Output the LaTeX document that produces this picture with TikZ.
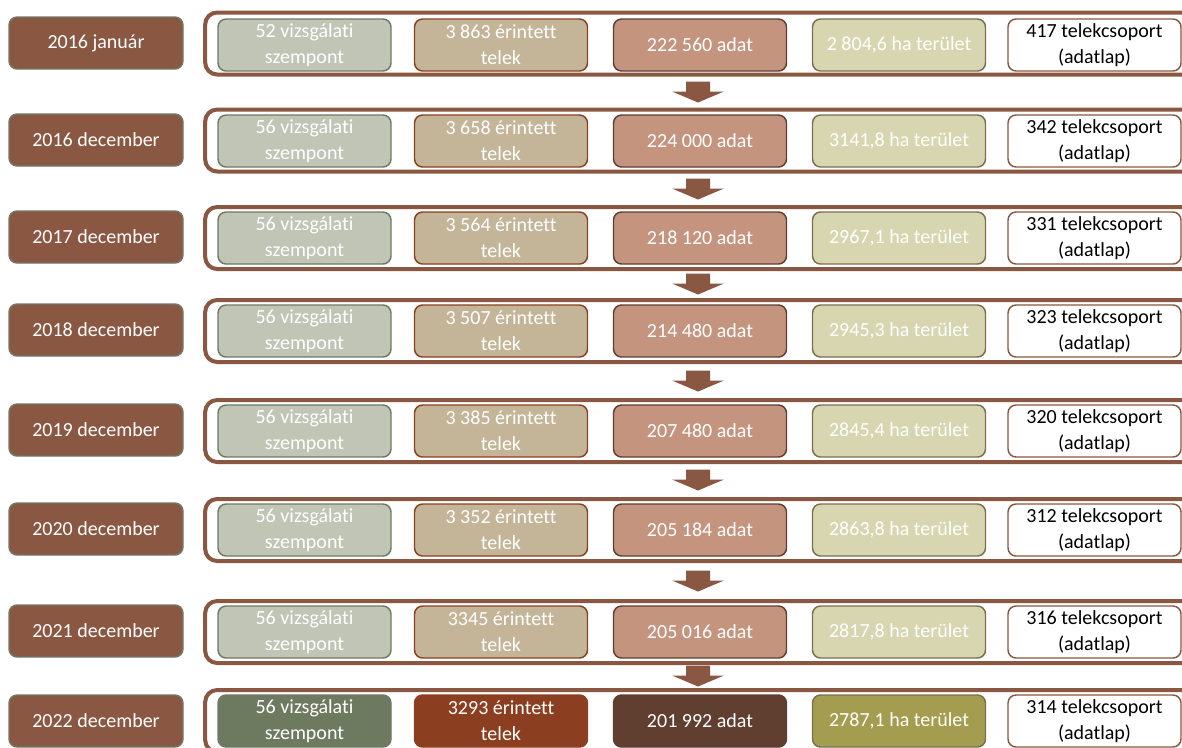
\documentclass[tikz,border=0pt]{standalone}
\usepackage{fontspec}
\setmainfont{Carlito}[RawFeature={-liga}]

\definecolor{yearbrown}{RGB}{138,87,66}
\definecolor{yearedge}{RGB}{112,122,102}
\definecolor{critfill}{RGB}{192,197,181}
\definecolor{critline}{RGB}{111,122,99}
\definecolor{plotfill}{RGB}{196,181,152}
\definecolor{plotline}{RGB}{140,64,32}
\definecolor{datafill}{RGB}{196,148,127}
\definecolor{dataline}{RGB}{95,63,48}
\definecolor{areafill}{RGB}{216,214,176}
\definecolor{arealine}{RGB}{122,112,80}
\definecolor{critdark}{RGB}{109,122,95}
\definecolor{plotdark}{RGB}{139,62,32}
\definecolor{datadark}{RGB}{96,62,48}
\definecolor{areadark}{RGB}{164,157,80}

\tikzset{
  box/.style={rounded corners=6pt, minimum width=129.75pt, minimum height=39pt,
    align=center, line width=1.1pt, inner sep=1pt,
    font=\fontsize{15}{19.5}\selectfont, text=white},
  yearbox/.style={box, fill=yearbrown, draw=yearedge, minimum width=130.5pt},
  critbox/.style={box, fill=critfill, draw=critline},
  plotbox/.style={box, fill=plotfill, draw=plotline},
  databox/.style={box, fill=datafill, draw=dataline},
  areabox/.style={box, fill=areafill, draw=arealine},
  groupbox/.style={box, fill=white, draw=yearbrown, text=black},
  rowframe/.style={draw=yearbrown, line width=3pt, rounded corners=9pt,
    minimum width=743pt, minimum height=46.5pt},
}

\begin{document}
\begin{tikzpicture}[x=0.75pt,y=0.75pt,yscale=-1,xscale=1]
\clip (0,0) rectangle (1182,747);

% 2016 januar
\node[rowframe] (frame1) at (700.5,43.5) {};
\node[yearbox] (year1) at (96,43) {2016 január};
\node[critbox] (crit1) at (304.5,45) {52 vizsgálati\\szempont};
\node[plotbox] (plot1) at (501,45) {3 863 érintett\\telek};
\node[databox] (data1) at (700,45) {222 560 adat};
\node[areabox] (area1) at (899,45) {2 804,6 ha terület};
\node[groupbox] (group1) at (1094.5,45) {417 telekcsoport\\(adatlap)};

% 2016 december
\node[rowframe] (frame2) at (700.5,140.5) {};
\node[yearbox] (year2) at (96,140) {2016 december};
\node[critbox] (crit2) at (304.5,141) {56 vizsgálati\\szempont};
\node[plotbox] (plot2) at (501,141) {3 658 érintett\\telek};
\node[databox] (data2) at (700,141) {224 000 adat};
\node[areabox] (area2) at (899,141) {3141,8 ha terület};
\node[groupbox] (group2) at (1094.5,141) {342 telekcsoport\\(adatlap)};

% 2017 december
\node[rowframe] (frame3) at (700.5,238) {};
\node[yearbox] (year3) at (96,237) {2017 december};
\node[critbox] (crit3) at (304.5,238) {56 vizsgálati\\szempont};
\node[plotbox] (plot3) at (501,238) {3 564 érintett\\telek};
\node[databox] (data3) at (700,238) {218 120 adat};
\node[areabox] (area3) at (899,238) {2967,1 ha terület};
\node[groupbox] (group3) at (1094.5,238) {331 telekcsoport\\(adatlap)};

% 2018 december
\node[rowframe] (frame4) at (700.5,331) {};
\node[yearbox] (year4) at (96,330) {2018 december};
\node[critbox] (crit4) at (304.5,331) {56 vizsgálati\\szempont};
\node[plotbox] (plot4) at (501,331) {3 507 érintett\\telek};
\node[databox] (data4) at (700,331) {214 480 adat};
\node[areabox] (area4) at (899,331) {2945,3 ha terület};
\node[groupbox] (group4) at (1094.5,331) {323 telekcsoport\\(adatlap)};

% 2019 december
\node[rowframe] (frame5) at (700.5,431) {};
\node[yearbox] (year5) at (96,430) {2019 december};
\node[critbox] (crit5) at (304.5,431) {56 vizsgálati\\szempont};
\node[plotbox] (plot5) at (501,431) {3 385 érintett\\telek};
\node[databox] (data5) at (700,431) {207 480 adat};
\node[areabox] (area5) at (899,431) {2845,4 ha terület};
\node[groupbox] (group5) at (1094.5,431) {320 telekcsoport\\(adatlap)};

% 2020 december
\node[rowframe] (frame6) at (700.5,530) {};
\node[yearbox] (year6) at (96,529) {2020 december};
\node[critbox] (crit6) at (304.5,530) {56 vizsgálati\\szempont};
\node[plotbox] (plot6) at (501,530) {3 352 érintett\\telek};
\node[databox] (data6) at (700,530) {205 184 adat};
\node[areabox] (area6) at (899,530) {2863,8 ha terület};
\node[groupbox] (group6) at (1094.5,530) {312 telekcsoport\\(adatlap)};

% 2021 december
\node[rowframe] (frame7) at (700.5,632) {};
\node[yearbox] (year7) at (96,631) {2021 december};
\node[critbox] (crit7) at (304.5,632) {56 vizsgálati\\szempont};
\node[plotbox] (plot7) at (501,632) {3345 érintett\\telek};
\node[databox] (data7) at (700,632) {205 016 adat};
\node[areabox] (area7) at (899,632) {2817,8 ha terület};
\node[groupbox] (group7) at (1094.5,632) {316 telekcsoport\\(adatlap)};

% 2022 december
\node[rowframe] (frame8) at (700.5,721) {};
\node[yearbox] (year8) at (96,721) {2022 december};
\node[critbox, fill=critdark] (crit8) at (304.5,721) {56 vizsgálati\\szempont};
\node[plotbox, fill=plotdark] (plot8) at (501,721) {3293 érintett\\telek};
\node[databox, fill=datadark] (data8) at (700,721) {201 992 adat};
\node[areabox, fill=areadark] (area8) at (899,721) {2787,1 ha terület};
\node[groupbox] (group8) at (1094.5,721) {314 telekcsoport\\(adatlap)};

%Shape: block arrows between the rows
\foreach \m in {92,189,284,381,480,581,676}
  \fill[yearbrown] (686,\m-10.5) -- (710,\m-10.5) -- (710,\m-0.5) -- (724,\m-0.5)
    -- (698,\m+10.5) -- (672,\m-0.5) -- (686,\m-0.5) -- cycle;

\end{tikzpicture}
\end{document}
